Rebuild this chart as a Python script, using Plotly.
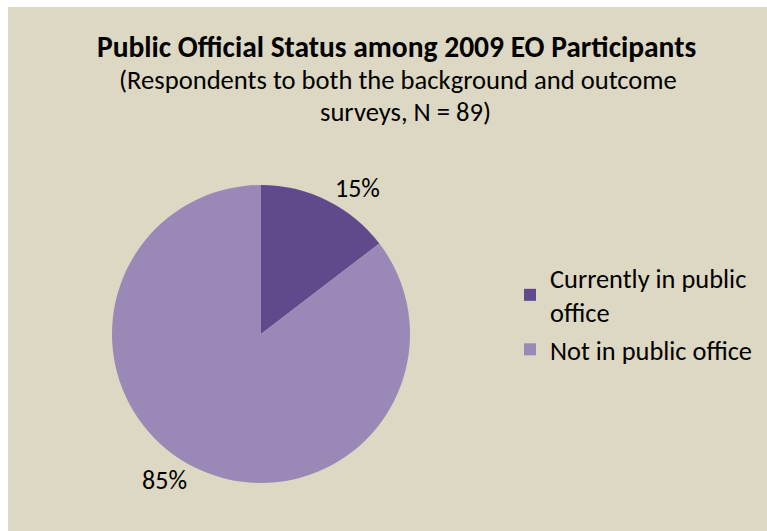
import plotly.graph_objects as go

labels = ["Currently in public<br>office", "Not in public office"]
values = [13, 76]
colors = ["#604a8c", "#9a88b6"]

title_main = "Public Official Status among 2009 EO Participants"
title_sub = ["(Respondents to both the background and outcome", "surveys, N = 89)"]

W, H = 767, 531
cx, cy, r = 261, 334, 149
FONT = "Carlito, Lato"

fig = go.Figure()
fig.add_trace(go.Pie(
    labels=labels, values=values, sort=False, direction="clockwise", rotation=0,
    marker=dict(colors=colors, line=dict(width=0)),
    texttemplate="%{percent:.0%}", textposition="outside",
    textfont=dict(family=FONT, size=26, color="#000000"),
    domain=dict(x=[(cx - r) / W, (cx + r) / W], y=[(H - cy - r) / H, (H - cy + r) / H]),
    hoverinfo="label+percent",
))

fig.add_shape(type="rect", xref="paper", yref="paper", x0=8 / W, x1=1, y0=0, y1=(H - 7) / H,
              fillcolor="#ddd8c3", line=dict(width=0), layer="below")

fig.add_annotation(xref="paper", yref="paper", x=396 / W, y=(H - 47) / H, text="<b>" + title_main + "</b>",
                   showarrow=False, font=dict(family=FONT, size=29.5, color="#000000"), xanchor="center", yanchor="middle")
fig.add_annotation(xref="paper", yref="paper", x=398 / W, y=(H - 80) / H, text=title_sub[0],
                   showarrow=False, font=dict(family=FONT, size=26.6, color="#000000"), xanchor="center", yanchor="middle")
fig.add_annotation(xref="paper", yref="paper", x=405 / W, y=(H - 112) / H, text=title_sub[1],
                   showarrow=False, font=dict(family=FONT, size=26.6, color="#000000"), xanchor="center", yanchor="middle")

fig.update_layout(
    width=W, height=H, margin=dict(l=0, r=0, t=0, b=0),
    paper_bgcolor="#ffffff", plot_bgcolor="rgba(0,0,0,0)",
    showlegend=True,
    legend=dict(x=510 / W, y=(H - 254) / H, xanchor="left", yanchor="top", bgcolor="rgba(0,0,0,0)",
                font=dict(family=FONT, size=26.4, color="#000000"), itemwidth=30),
)

fig.write_html("out.html")
